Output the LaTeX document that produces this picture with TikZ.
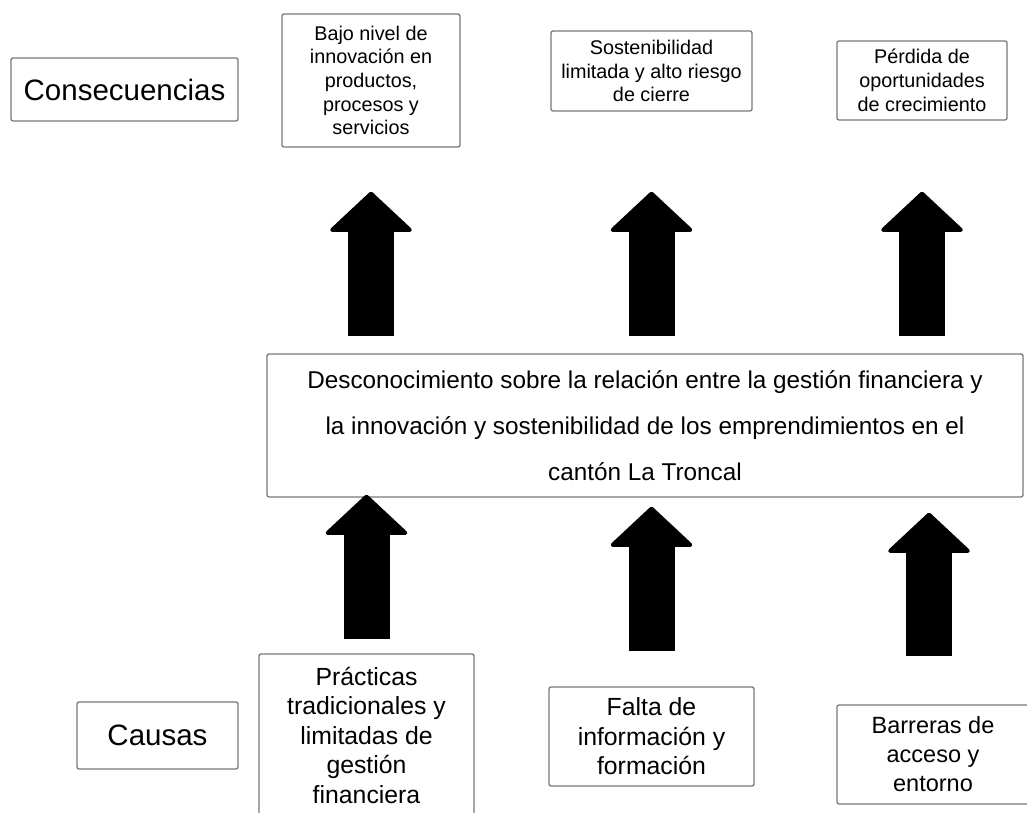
\documentclass[tikz,border=0pt]{standalone}
\usepackage{fontspec}
\setmainfont{Liberation Sans}
\usetikzlibrary{positioning,calc,arrows.meta}

\begin{document}
\begin{tikzpicture}[x=1pt,y=1pt,
  caja/.style={draw={rgb,255:red,120;green,120;blue,120}, line width=1.3pt,
    rounded corners=2pt, align=center, inner sep=0pt},
  titulo/.style={caja, font=\fontsize{29.5}{34}\selectfont},
  efecto/.style={caja, font=\fontsize{19.8}{23.7}\selectfont},
  causa/.style={caja, font=\fontsize{24.8}{29.5}\selectfont},
  flecha/.style={line width=46pt,
    -{Triangle[width=87pt,length=41pt,line width=4pt,round]}}]

  \useasboundingbox (0,0) rectangle (1027,813);

  \node[titulo, minimum width=227pt, minimum height=63pt] (cons) at (124.5,723.5) {Consecuencias};
  \node[efecto, minimum width=178pt, minimum height=133pt] (efecto1) at (371,732.5)
    {Bajo nivel de\\innovación en\\productos,\\procesos y\\servicios};
  \node[efecto, minimum width=201pt, minimum height=80pt] (efecto2) at (651.5,742)
    {Sostenibilidad\\limitada y alto riesgo\\de cierre};
  \node[efecto, minimum width=170pt, minimum height=79pt] (efecto3) at (922,732.5)
    {Pérdida de\\oportunidades\\de crecimiento};

  \node[caja, font=\fontsize{24.3}{46}\selectfont, minimum width=756pt, minimum height=143pt]
    (problema) at (645,387.5)
    {Desconocimiento sobre la relación entre la gestión financiera y\\
     la innovación y sostenibilidad de los emprendimientos en el\\
     cantón La Troncal};

  \node[titulo, minimum width=161pt, minimum height=67pt] (causas) at (157.5,77.5) {Causas};
  \node[causa, minimum width=215pt, minimum height=162pt] (causa1) at (366.5,78)
    {Prácticas\\tradicionales y\\limitadas de\\gestión\\financiera};
  \node[causa, minimum width=205pt, minimum height=99pt] (causa2) at (651.5,76.5)
    {Falta de\\información y\\formación};
  \node[causa, font=\fontsize{23.5}{29}\selectfont, minimum width=192pt, minimum height=99pt]
    (causa3) at (933,58.5)
    {Barreras de\\acceso y\\entorno};

  \draw[flecha, shorten <=17pt, shorten >=44pt] (problema.north -| efecto1) -- (efecto1.south);
  \draw[flecha, shorten <=17pt, shorten >=80pt] (problema.north -| efecto2) -- (efecto2.south);
  \draw[flecha, shorten <=17pt, shorten >=71pt] (problema.north -| efecto3) -- (efecto3.south);

  \draw[flecha, shorten <=14pt, shorten >=-3pt] (causa1.north) -- (causa1 |- problema.south);
  \draw[flecha, shorten <=35pt, shorten >=9pt] (causa2.north) -- (causa2 |- problema.south);
  \draw[flecha, shorten <=48pt, shorten >=15pt] ([xshift=-4pt]causa3.north) -- ([xshift=-4pt]causa3 |- problema.south);
\end{tikzpicture}
\end{document}
